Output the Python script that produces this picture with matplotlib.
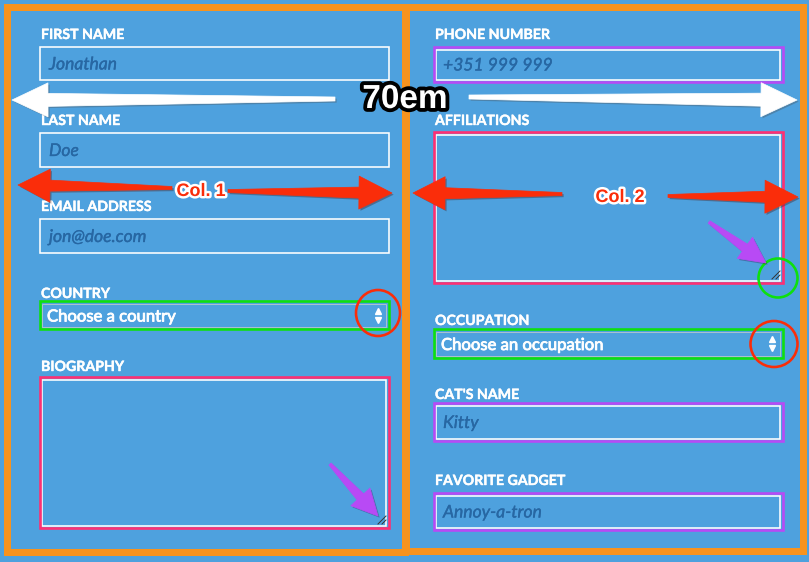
import numpy as np
import matplotlib
matplotlib.use("Agg")
import matplotlib.pyplot as plt
import matplotlib.patches as mpatches
import matplotlib.patheffects as pe

# =============================================================================
# FORM CONTENT
# =============================================================================
LEFT_LABELS  = ["FIRST NAME", "LAST NAME", "EMAIL ADDRESS", "COUNTRY", "BIOGRAPHY"]
LEFT_HINTS   = ["Jonathan", "Doe", "jon@doe.com", "Choose a country", ""]
LEFT_KINDS   = ["input", "input", "input", "select", "textarea"]
LEFT_MARKS   = [None, None, None, "green", "pink"]

RIGHT_LABELS = ["PHONE NUMBER", "AFFILIATIONS", "OCCUPATION", "CAT'S NAME", "FAVORITE GADGET"]
RIGHT_HINTS  = ["+351 999 999", "", "Choose an occupation", "Kitty", "Annoy-a-tron"]
RIGHT_KINDS  = ["input", "textarea", "select", "input", "input"]
RIGHT_MARKS  = ["purple", "pink", "green", "purple", "purple"]

WIDTH_LABEL  = "70em"
COL_LABELS   = ["Col. 1", "Col. 2"]

# =============================================================================
# LAYOUT (pixels, y grows downwards)
# =============================================================================
LEFT_X        = (40, 389)
RIGHT_X       = (434, 783)
LEFT_BOXES    = [(47, 80), (133, 167), (219, 253), (301, 329), (377, 528)]
RIGHT_BOXES   = [(47, 82), (132, 283), (329, 358), (403, 441), (493, 530)]
LEFT_LABEL_Y  = [39, 125, 211, 298, 371]
RIGHT_LABEL_Y = [39, 125, 325, 399, 485]

BLUE     = "#4ea1de"
ORANGE   = "#f7931e"
HINT     = "#2767a3"
RED      = "#fa2d0a"
PURPLE   = "#b84af5"
PINK     = "#ff2f72"
GREEN    = "#0ee00e"
MARK_COLORS = {"green": GREEN, "pink": PINK, "purple": PURPLE}

PX = 0.72  # pixels -> points at 100 dpi

fig = plt.figure(figsize=(8.09, 5.62), dpi=100, facecolor=BLUE)
ax = fig.add_axes([0, 0, 1, 1])
ax.set_xlim(0, 809)
ax.set_ylim(562, 0)
ax.set_facecolor(BLUE)
ax.axis("off")


def rect(x0, y0, x1, y1, color, lw_px, z=2):
    ax.add_patch(mpatches.Rectangle((x0, y0), x1 - x0, y1 - y0, fill=False,
                                    edgecolor=color, linewidth=lw_px * PX,
                                    joinstyle="miter", zorder=z))


def skitch_arrow(tail, tip, head_len, head_w, shaft_w, tail_w, color, z=6):
    tail = np.array(tail, float)
    tip = np.array(tip, float)
    d = tip - tail
    d /= np.hypot(*d)
    n = np.array([-d[1], d[0]])
    base = tip - d * head_len
    pts = [tail + n * tail_w / 2, base + n * shaft_w / 2, base + n * head_w / 2,
           tip, base - n * head_w / 2, base - n * shaft_w / 2, tail - n * tail_w / 2]
    poly = mpatches.Polygon(pts, closed=True, facecolor=color, edgecolor=color,
                            linewidth=0.5, joinstyle="round", zorder=z)
    poly.set_path_effects([pe.SimplePatchShadow(offset=(1.2, -1.2), alpha=0.35),
                           pe.Normal()])
    ax.add_patch(poly)


def thick(color, w=0.5):
    return [pe.withStroke(linewidth=w, foreground=color)]


def draw_field(label, label_y, hint, kind, mark, xs, box):
    x0, x1 = xs
    y0, y1 = box
    ax.text(x0 + 1, label_y, label, family="Lato", weight="bold", fontsize=10.2,
            color="white", va="baseline", ha="left", zorder=3,
            path_effects=thick("white", 0.3))
    cy = (y0 + y1) / 2
    if kind == "select":
        rect(x0 + 2.5, y0 + 2.5, x1 - 2.5, y1 - 2.5, "#a9bfd0", 1.0)
        ax.text(x0 + 7, cy + 6.5, hint, family="Lato", fontsize=12.0,
                color="white", va="baseline", ha="left", zorder=3,
                path_effects=thick("white", 0.6))
        ax.plot([x1 - 10.5], [cy - 4.5], marker="^", ms=5, color="white",
                mec="white", zorder=3)
        ax.plot([x1 - 10.5], [cy + 4.5], marker="v", ms=5, color="white",
                mec="white", zorder=3)
    else:
        inset = 2.5 if mark else 0
        rect(x0 + inset, y0 + inset, x1 - inset, y1 - inset, "white", 1.6)
        if hint:
            ax.text(x0 + 9, cy + 6, hint, family="Lato", style="italic",
                    fontsize=12.6, color=HINT, va="baseline", ha="left", zorder=3,
                    path_effects=thick(HINT, 0.25))
        if kind == "textarea":
            gx, gy = x1 - 3, y1 - 4
            ax.plot([gx - 8, gx], [gy, gy - 8], color="#333333", lw=0.7, zorder=3)
            ax.plot([gx - 4, gx], [gy, gy - 4], color="#333333", lw=0.7, zorder=3)
    if mark:
        rect(x0, y0, x1, y1, MARK_COLORS[mark], 2.6, z=4)


# --- column boxes ---
rect(7.5, 6.5, 405.5, 551.5, ORANGE, 7, z=1)
rect(406.5, 6.5, 803.5, 551, ORANGE, 7, z=1)

# --- fields ---
for lab, ly, hint, kind, mark, box in zip(LEFT_LABELS, LEFT_LABEL_Y, LEFT_HINTS,
                                          LEFT_KINDS, LEFT_MARKS, LEFT_BOXES):
    draw_field(lab, ly, hint, kind, mark, LEFT_X, box)
for lab, ly, hint, kind, mark, box in zip(RIGHT_LABELS, RIGHT_LABEL_Y, RIGHT_HINTS,
                                          RIGHT_KINDS, RIGHT_MARKS, RIGHT_BOXES):
    draw_field(lab, ly, hint, kind, mark, RIGHT_X, box)

# --- annotation circles ---
for (cx, cy), w, h, col in [((378, 313), 44, 46, RED), ((774, 344), 47, 46, RED),
                            ((778, 278), 39, 39, GREEN)]:
    ax.add_patch(mpatches.Ellipse((cx, cy), w, h, fill=False, edgecolor=col,
                                  linewidth=2.6 * PX, zorder=5))

# --- purple arrows pointing at resize grips ---
skitch_arrow((330, 464), (378, 516), 26, 26, 9, 3, PURPLE)
skitch_arrow((709, 222), (766, 263), 26, 26, 9, 3, PURPLE)

# --- 70em white arrows ---
skitch_arrow((335, 99), (12, 100), 36, 34, 13, 4, "white")
skitch_arrow((469, 97), (797, 100), 36, 34, 13, 4, "white")
ax.text(405, 108, WIDTH_LABEL, family="Liberation Sans", weight="bold", fontsize=24,
        color="white", ha="center", va="baseline", zorder=8,
        path_effects=[pe.withStroke(linewidth=5.5, foreground="black")])

# --- column arrows ---
skitch_arrow((172, 188), (18, 185), 32, 33, 11, 3, RED)
skitch_arrow((228, 191), (392, 193), 33, 33, 11, 3, RED)
skitch_arrow((562, 194), (413, 193), 32, 33, 11, 3, RED)
skitch_arrow((668, 196), (798, 197), 33, 33, 11, 3, RED)
for txt, (tx, ty) in zip(COL_LABELS, [(201, 196), (620, 202)]):
    ax.text(tx, ty, txt, family="Liberation Sans", weight="bold", fontsize=13,
            color=RED, ha="center", va="baseline", zorder=8,
            path_effects=[pe.withSimplePatchShadow(offset=(1, -1), alpha=0.3),
                          pe.withStroke(linewidth=3.5, foreground="white")])

fig.savefig("out.png", dpi=100, facecolor=BLUE)
